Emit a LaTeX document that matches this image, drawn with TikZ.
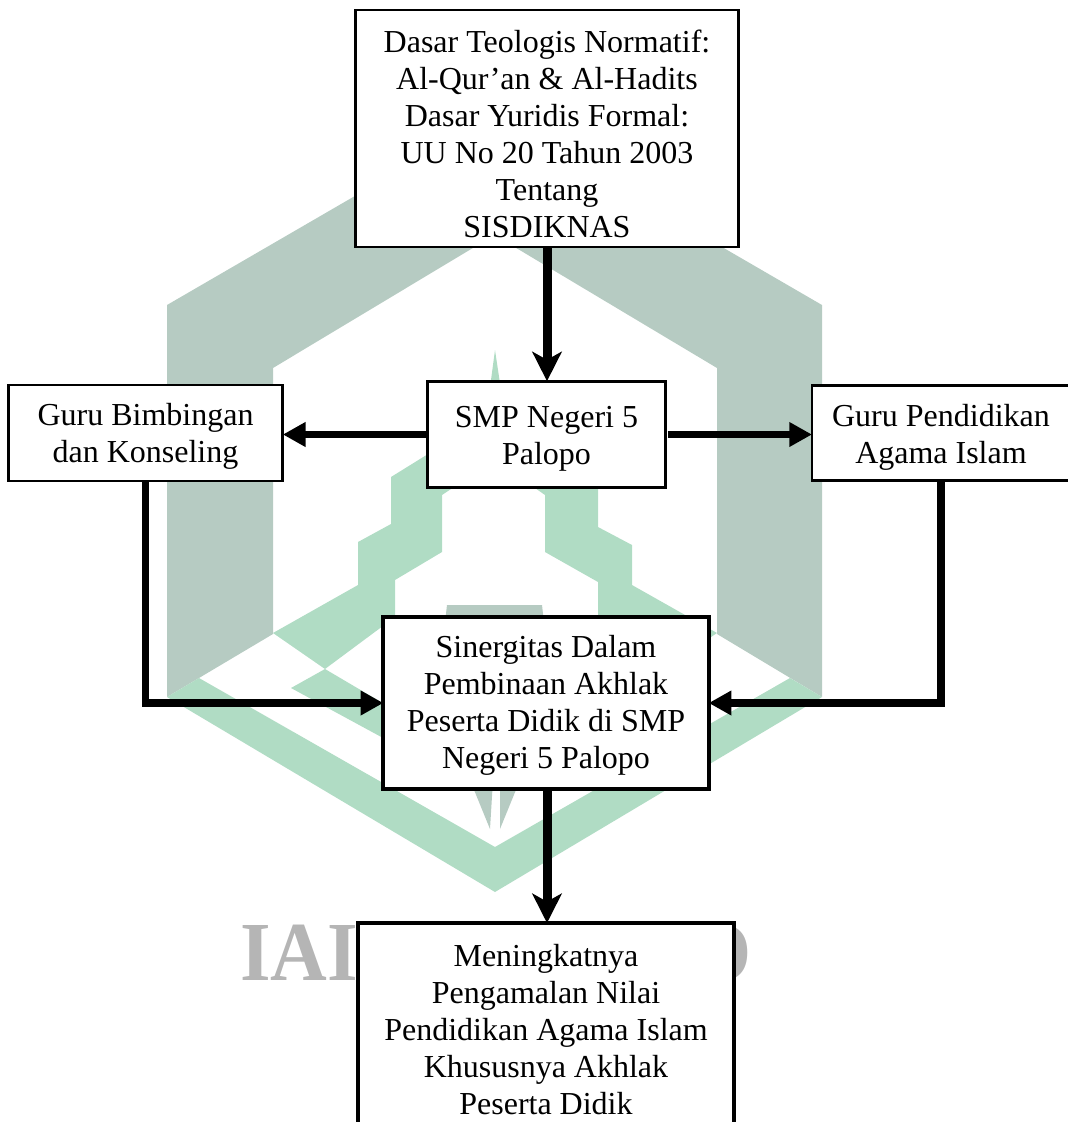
\documentclass[tikz,border=0pt]{standalone}
\usepackage{fontspec}
\setmainfont{Liberation Serif}
\usetikzlibrary{arrows.meta,calc}
\definecolor{wmgray}{HTML}{B6CBC2}
\definecolor{wmgreen}{HTML}{B0DCC4}
\definecolor{wmtext}{HTML}{B5B5B5}
\newcommand{\txt}[2]{\raisebox{#1}[0pt][0pt]{\begin{tabular}{@{}c@{}}#2\end{tabular}}}
\tikzset{
  box/.style={draw=black,fill=white,line width=2.2pt,rectangle,align=center,inner sep=0pt,outer sep=0pt,
    font=\fontsize{24pt}{27.75pt}\selectfont,text=black},
  wmlabel/.style={inner sep=0pt,font=\fontsize{63pt}{63pt}\selectfont\bfseries,text=wmtext,xscale=.935},
  bigarrow/.style={line width=6.75pt,-{Stealth[length=22pt,width=22pt,inset=6pt]}},
  flatarrow/.style={line width=5.6pt,-{Triangle[length=17pt,width=17.5pt]}}
}
\begin{document}
\begin{tikzpicture}[x=.75pt,y=-.75pt]
\useasboundingbox (0,0) rectangle (1068,1122);
\clip (0,0) rectangle (1068,1122);
% watermark
\fill[wmgray] (167,697) -- (167,305) -- (494.5,115) -- (822,305) -- (822,697) -- (717,634) -- (717,368) -- (494.5,235) -- (273,368) -- (273,634) -- cycle;
\fill[wmgray] (447,605) -- (542,605) -- (546,640) -- (443,640) -- cycle;
\fill[wmgreen] (167,697) -- (199,678) -- (495,847) -- (790,678) -- (822,697) -- (495,892) -- cycle;
\fill[wmgreen] (273,633) -- (358,585) -- (358,542) -- (391,524) -- (391,477) -- (491,415) -- (491,380) -- (495,350) -- (499.5,380) -- (499.5,415) -- (598,477) -- (598,527) -- (632,545) -- (632,585) -- (717,633) -- (664,669) -- (598,617) -- (598,582) -- (545,552) -- (545,495) -- (495,460) -- (442,495) -- (442,552) -- (395,580) -- (395,617) -- (325,669) -- cycle;
\fill[wmgreen] (291,688) -- (325,669) -- (420,725) -- (420,758) -- cycle;
\fill[wmgray] (470,780) -- (493,780) -- (490,829) -- cycle;
\fill[wmgray] (500,780) -- (520,780) -- (500,829) -- cycle;
\node[wmlabel,anchor=base west] (wma) at (240,980) {IAI};
\node[wmlabel,anchor=base east] (wmb) at (752,980) {O};
% boxes
\node[box,minimum width=287pt,minimum height=177.75pt] (top) at (547,128.5) {\txt{-12.75pt}{Dasar Teologis Normatif:\\Al-Qur’an \& Al-Hadits\\Dasar Yuridis Formal:\\UU No 20 Tahun 2003\\Tentang\\SISDIKNAS}};
\node[box,minimum width=179pt,minimum height=80pt] (smp) at (546.5,434.5) {\txt{-9pt}{SMP Negeri 5\\Palopo}};
\node[box,minimum width=206pt,minimum height=72pt] (gb) at (145.5,433) {\txt{-9pt}{Guru Bimbingan\\dan Konseling}};
\node[box,minimum width=193.5pt,minimum height=71pt] (gp) at (941,433) {\txt{-9.5pt}{Guru Pendidikan\\Agama Islam}};
\node[box,line width=3pt,minimum width=244pt,minimum height=129pt] (sin) at (546,703) {\txt{-8.2pt}{Sinergitas Dalam\\Pembinaan Akhlak\\Peserta Didik di SMP\\Negeri 5 Palopo}};
\node[box,line width=3pt,minimum width=282pt,minimum height=165pt,anchor=north] (hasil) at (546,923) {\txt{-6pt}{Meningkatnya\\Pengamalan Nilai\\Pendidikan Agama Islam\\Khususnya Akhlak\\Peserta Didik}};
% connectors
\draw[bigarrow] (top.south) -- (top.south |- smp.north);
\draw[bigarrow] ($(sin.south)+(1,0)$) -- ($(hasil.north)+(1,0)$);
\draw[flatarrow] (smp.west) -- (smp.west -| gb.east);
\draw[flatarrow] ($(smp.east)+(2,0)$) -- (smp.east -| gp.west);
\draw[flatarrow,line join=miter] (gb.south) |- (sin.west);
\draw[flatarrow,line join=miter] (gp.south) |- (sin.east);
\end{tikzpicture}
\end{document}
